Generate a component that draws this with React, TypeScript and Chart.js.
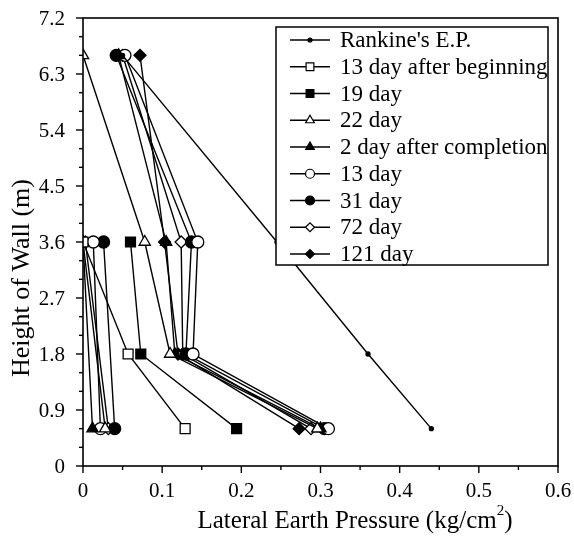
import React, { useEffect, useRef } from "react";
import { Chart, registerables } from "chart.js";
import { drawPoint } from "chart.js/helpers";
Chart.register(...registerables);

// ---- data ----
const heightsMain = [6.6, 3.6, 1.8, 0.6];
const heightsBuild = [3.6, 1.8, 0.6];
const heightsLow = [3.6, 0.6];

const seriesLabels = [
  "Rankine's E.P.",
  "13 day after beginning",
  "19 day",
  "22 day",
  "2 day after completion",
  "13 day",
  "31 day",
  "72 day",
  "121 day",
];

const rankine = [0.05, 0.245, 0.36, 0.44];
const day13Begin = [0.0, 0.057, 0.129];
const day19 = [0.06, 0.073, 0.194];
const day22 = [0.0, 0.078, 0.11, 0.296];
const day2After = [0.045, 0.105, 0.116, 0.3];
const day13 = [0.053, 0.145, 0.139, 0.31];
const day31 = [0.042, 0.137, 0.13, 0.305];
const day72 = [0.05, 0.124, 0.126, 0.288];
const day121 = [0.072, 0.103, 0.12, 0.273];

// readings of the lower-left group
const day22Low = [0.0, 0.028];
const day2AfterLow = [0.0, 0.012];
const day13Low = [0.013, 0.022];
const day31Low = [0.026, 0.04];
const day72Low = [0.003, 0.032];

const xTicksMajor = [0, 0.1, 0.2, 0.3, 0.4, 0.5, 0.6];
const xTickLabels = ["0", "0.1", "0.2", "0.3", "0.4", "0.5", "0.6"];
const yTicksMajor = [0, 0.9, 1.8, 2.7, 3.6, 4.5, 5.4, 6.3, 7.2];
const yTickLabels = ["0", "0.9", "1.8", "2.7", "3.6", "4.5", "5.4", "6.3", "7.2"];

const xTitleMain = "Lateral Earth Pressure (kg/cm";
const xTitleSup = "2";
const xTitleEnd = ")";
const yTitle = "Height of Wall (m)";

const FONT = "'Liberation Serif', 'Times New Roman', serif";

type Style = { pointStyle: string; fill: boolean; r: number; lr: number };
const styles: Style[] = [
  { pointStyle: "circle", fill: true, r: 2, lr: 2 },
  { pointStyle: "rect", fill: false, r: 7, lr: 5.5 },
  { pointStyle: "rect", fill: true, r: 7, lr: 5.5 },
  { pointStyle: "triangle", fill: false, r: 6.5, lr: 5 },
  { pointStyle: "triangle", fill: true, r: 6.5, lr: 5 },
  { pointStyle: "circle", fill: false, r: 6, lr: 4.5 },
  { pointStyle: "circle", fill: true, r: 6, lr: 4.5 },
  { pointStyle: "rectRot", fill: false, r: 6, lr: 4.5 },
  { pointStyle: "rectRot", fill: true, r: 6, lr: 4.5 },
];

function pts(xs: number[], hs: number[]) {
  return xs.map((x, i) => ({ x, y: hs[i] as number | null }));
}
function withLow(main: { x: number; y: number | null }[], low?: number[]) {
  if (!low) return main;
  return [...main, { x: 0, y: null }, ...pts(low, heightsLow)];
}

const framePlugin = {
  id: "frameAndLegend",
  afterDraw(chart: any) {
    const { ctx, chartArea: a, scales } = chart;
    const xs = scales.x;
    const ys = scales.y;
    ctx.save();
    ctx.strokeStyle = "#000";
    ctx.fillStyle = "#000";
    ctx.lineWidth = 1.6;
    ctx.strokeRect(a.left, a.top, a.right - a.left, a.bottom - a.top);
    // ticks + tick labels
    ctx.lineWidth = 1.4;
    ctx.font = `21px ${FONT}`;
    ctx.textAlign = "center";
    ctx.textBaseline = "middle";
    for (let i = 0; i < xTicksMajor.length; i++) {
      const v = xTicksMajor[i];
      const p = xs.getPixelForValue(v);
      ctx.beginPath();
      ctx.moveTo(p, a.bottom);
      ctx.lineTo(p, a.bottom + 7);
      ctx.stroke();
      ctx.fillText(xTickLabels[i], p, a.bottom + 25);
      if (i < xTicksMajor.length - 1) {
        const pm = xs.getPixelForValue((v + xTicksMajor[i + 1]) / 2);
        ctx.beginPath();
        ctx.moveTo(pm, a.bottom);
        ctx.lineTo(pm, a.bottom + 4);
        ctx.stroke();
      }
    }
    ctx.textAlign = "right";
    for (let i = 0; i < yTicksMajor.length; i++) {
      const v = yTicksMajor[i];
      const p = ys.getPixelForValue(v);
      ctx.beginPath();
      ctx.moveTo(a.left, p);
      ctx.lineTo(a.left - 7, p);
      ctx.stroke();
      ctx.fillText(yTickLabels[i], a.left - 18, p + 1);
      if (i < yTicksMajor.length - 1) {
        const step = (yTicksMajor[i + 1] - v) / 3;
        for (let k = 1; k < 3; k++) {
          const pm = ys.getPixelForValue(v + step * k);
          ctx.beginPath();
          ctx.moveTo(a.left, pm);
          ctx.lineTo(a.left - 4, pm);
          ctx.stroke();
        }
      }
    }
    // axis titles
    const tf = 25;
    ctx.font = `${tf}px ${FONT}`;
    ctx.textBaseline = "middle";
    const w1 = ctx.measureText(xTitleMain).width;
    ctx.font = `15px ${FONT}`;
    const w2 = ctx.measureText(xTitleSup).width;
    ctx.font = `${tf}px ${FONT}`;
    const w3 = ctx.measureText(xTitleEnd).width;
    const total = w1 + w2 + w3;
    const cx = 355;
    const ty = 521;
    let sx = cx - total / 2;
    ctx.textAlign = "left";
    ctx.fillText(xTitleMain, sx, ty);
    sx += w1;
    ctx.font = `15px ${FONT}`;
    ctx.fillText(xTitleSup, sx, ty - 10);
    sx += w2;
    ctx.font = `${tf}px ${FONT}`;
    ctx.fillText(xTitleEnd, sx, ty);

    ctx.save();
    ctx.translate(22, 278);
    ctx.rotate(-Math.PI / 2);
    ctx.textAlign = "center";
    ctx.font = `26px ${FONT}`;
    ctx.fillText(yTitle, 0, 0);
    ctx.restore();

    // legend
    const lx = 276, ly = 27, lw = 272, lh = 238;
    ctx.fillStyle = "#fff";
    ctx.fillRect(lx, ly, lw, lh);
    ctx.strokeStyle = "#000";
    ctx.lineWidth = 1.5;
    ctx.strokeRect(lx, ly, lw, lh);
    ctx.font = `23px ${FONT}`;
    ctx.textAlign = "left";
    ctx.textBaseline = "middle";
    for (let i = 0; i < seriesLabels.length; i++) {
      const y = 40 + i * 26.75;
      ctx.strokeStyle = "#000";
      ctx.lineWidth = 1.4;
      ctx.beginPath();
      ctx.moveTo(290, y);
      ctx.lineTo(330, y);
      ctx.stroke();
      const s = styles[i];
      ctx.fillStyle = s.fill ? "#000" : "#fff";
      ctx.lineWidth = 1.2;
      drawPoint(ctx, { pointStyle: s.pointStyle as any, radius: s.lr, rotation: 0, borderWidth: 1.2 } as any, 310, y);
      ctx.fillStyle = "#000";
      ctx.fillText(seriesLabels[i], 340, y + 1);
    }
    ctx.restore();
  },
};

export default function App() {
  const ref = useRef<HTMLCanvasElement | null>(null);
  useEffect(() => {
    if (!ref.current) return;
    const dataSets = [
      pts(rankine, heightsMain),
      pts(day13Begin, heightsBuild),
      pts(day19, heightsBuild),
      withLow(pts(day22, heightsMain), day22Low),
      withLow(pts(day2After, heightsMain), day2AfterLow),
      withLow(pts(day13, heightsMain), day13Low),
      withLow(pts(day31, heightsMain), day31Low),
      withLow(pts(day72, heightsMain), day72Low),
      pts(day121, heightsMain),
    ];
    const chart = new Chart(ref.current, {
      type: "line",
      data: {
        datasets: dataSets.map((d, i) => ({
          label: seriesLabels[i],
          data: d as any,
          borderColor: "#000",
          borderWidth: 1.4,
          backgroundColor: styles[i].fill ? "#000" : "#fff",
          pointStyle: styles[i].pointStyle as any,
          pointRadius: styles[i].r,
          pointBorderWidth: 1.3,
          pointBorderColor: "#000",
          pointBackgroundColor: styles[i].fill ? "#000" : "#fff",
          fill: false,
          tension: 0,
          spanGaps: false,
        })),
      },
      options: {
        animation: false,
        responsive: false,
        layout: { padding: { top: 18, right: 16, left: 0, bottom: 0 } },
        plugins: { legend: { display: false }, tooltip: { enabled: false } },
        scales: {
          x: {
            type: "linear",
            min: 0,
            max: 0.6,
            ticks: { display: false, stepSize: 0.1 },
            grid: { display: false },
            border: { display: false },
            afterFit: (s: any) => {
              s.height = 82;
              s.paddingLeft = 0;
              s.paddingRight = 0;
            },
          },
          y: {
            type: "linear",
            min: 0,
            max: 7.2,
            ticks: { display: false, stepSize: 0.9 },
            grid: { display: false },
            border: { display: false },
            afterFit: (s: any) => {
              s.width = 83;
              s.paddingTop = 0;
              s.paddingBottom = 0;
            },
          },
        },
      },
      plugins: [framePlugin],
    });
    return () => chart.destroy();
  }, []);
  return (
    <div style={{ position: "fixed", left: 0, top: 0, width: 574, height: 548, background: "#fff" }}>
      <canvas ref={ref} width={574} height={548} style={{ width: 574, height: 548 }} />
    </div>
  );
}
